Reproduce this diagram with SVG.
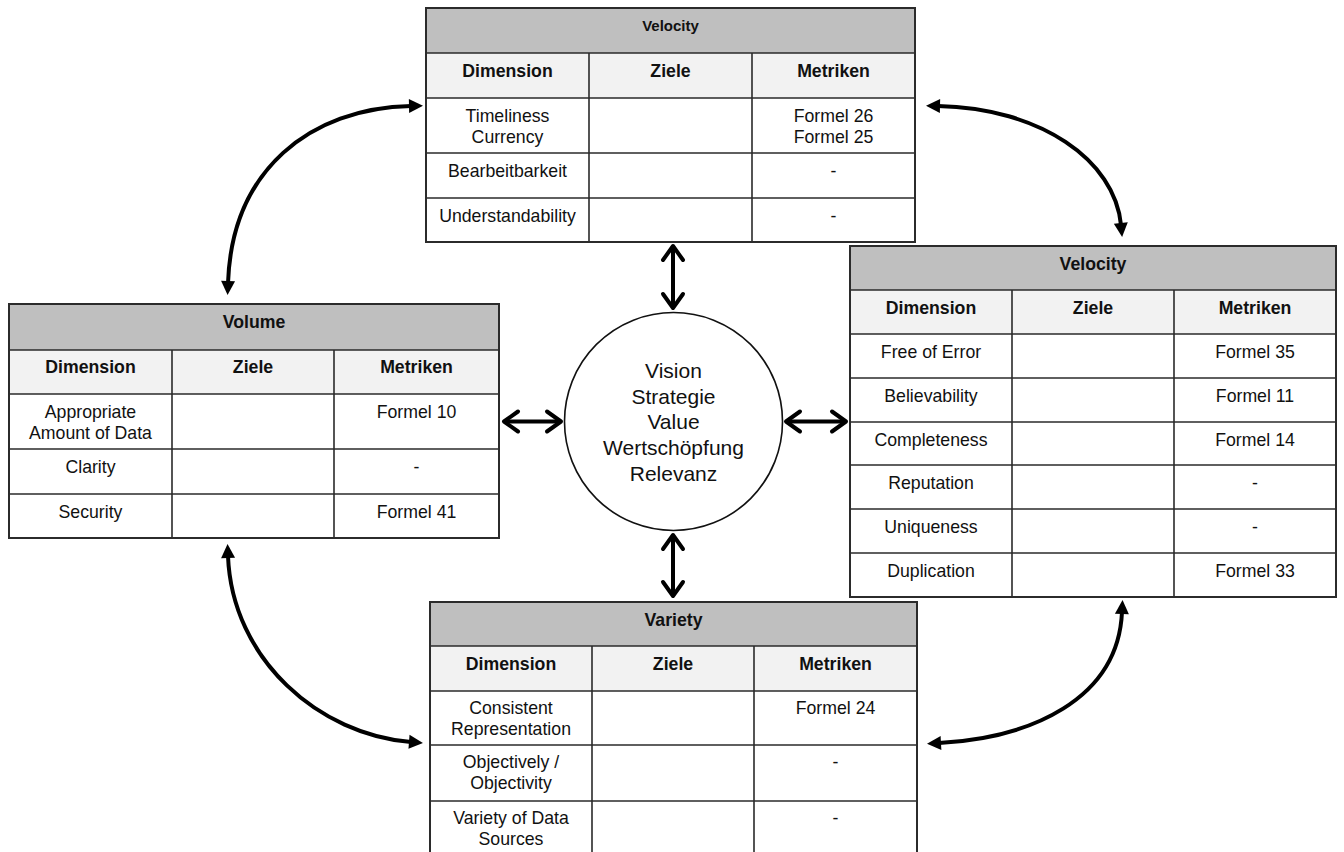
<svg xmlns="http://www.w3.org/2000/svg" width="1344" height="852" viewBox="0 0 1344 852">
  <style>
    text { font-family: "Liberation Sans", Arial, sans-serif; fill: #111; text-anchor: middle; }
    .title { font-size: 17.7px; font-weight: bold; }
    .title-sm { font-size: 15px; font-weight: bold; }
    .colhead { font-size: 17.7px; font-weight: bold; }
    .cell { font-size: 17.7px; }
    .center { font-size: 21px; }
    .band { fill: #bfbfbf; }
    .head { fill: #f2f2f2; }
    .body { fill: #ffffff; }
    .grid { stroke: #2b2b2b; stroke-width: 1.6; fill: none; }
    .frame { stroke: #2b2b2b; stroke-width: 2; fill: none; }
    .link { stroke: #000; stroke-width: 4; fill: none; }
    .hub { fill: #fff; stroke: #111; stroke-width: 1.6; }
  </style>
  <defs>
    <marker id="tri" markerUnits="userSpaceOnUse" markerWidth="20" markerHeight="20" viewBox="-2 -10 20 20" refX="2" refY="0" orient="auto-start-reverse">
      <path d="M0 -7 L14 0 L0 7 Z" fill="#000"/>
    </marker>
    <marker id="chev" markerUnits="userSpaceOnUse" markerWidth="30" markerHeight="30" viewBox="-20 -15 30 30" refX="0" refY="0" orient="auto-start-reverse">
      <path d="M-14 -10 L0 0 L-14 10" fill="none" stroke="#000" stroke-width="4" stroke-linecap="round" stroke-linejoin="round"/>
    </marker>
  </defs>

  <rect width="1344" height="852" fill="#fff"/>

  <!-- connectors -->
  <g id="connectors">
    <!-- hub spokes -->
    <line class="link" x1="673" y1="246" x2="673" y2="308" marker-start="url(#chev)" marker-end="url(#chev)"/>
    <line class="link" x1="673" y1="535" x2="673" y2="596" marker-start="url(#chev)" marker-end="url(#chev)"/>
    <line class="link" x1="504" y1="421.5" x2="561" y2="421.5" marker-start="url(#chev)" marker-end="url(#chev)"/>
    <line class="link" x1="786" y1="421.5" x2="846" y2="421.5" marker-start="url(#chev)" marker-end="url(#chev)"/>
    <!-- ring between tables -->
    <path class="link" d="M228 283 C232 170 310 108 411 106" marker-start="url(#tri)" marker-end="url(#tri)"/>
    <path class="link" d="M938 106 C1040 108 1115 160 1121 225" marker-start="url(#tri)" marker-end="url(#tri)"/>
    <path class="link" d="M228 556 C232 660 320 735 411 742" marker-start="url(#tri)" marker-end="url(#tri)"/>
    <path class="link" d="M1122 612 C1118 700 1030 738 939 743" marker-start="url(#tri)" marker-end="url(#tri)"/>
  </g>

  <!-- hub -->
  <g id="hub">
    <circle class="hub" cx="673.5" cy="421.5" r="109"/>
    <text class="center" x="673.5" y="378">Vision</text>
    <text class="center" x="673.5" y="403.7">Strategie</text>
    <text class="center" x="673.5" y="429.4">Value</text>
    <text class="center" x="673.5" y="455.1">Wertschöpfung</text>
    <text class="center" x="673.5" y="480.8">Relevanz</text>
  </g>

  <!-- top table -->
  <g id="table-velocity-top">
    <rect class="band" x="426" y="8" width="489" height="45"/>
    <rect class="head" x="426" y="53" width="489" height="45"/>
    <rect class="body" x="426" y="98" width="489" height="144"/>
    <path class="grid" d="M426 53 H915 M426 98 H915 M426 153 H915 M426 198 H915 M589 53 V242 M752 53 V242"/>
    <rect class="frame" x="426" y="8" width="489" height="234"/>
    <text class="title-sm" x="670.5" y="31">Velocity</text>
    <text class="colhead" x="507.5" y="77">Dimension</text>
    <text class="colhead" x="670.5" y="77">Ziele</text>
    <text class="colhead" x="833.5" y="77">Metriken</text>
    <text class="cell" x="507.5" y="121.5">Timeliness</text>
    <text class="cell" x="507.5" y="142.5">Currency</text>
    <text class="cell" x="833.5" y="121.5">Formel 26</text>
    <text class="cell" x="833.5" y="142.5">Formel 25</text>
    <text class="cell" x="507.5" y="177">Bearbeitbarkeit</text>
    <text class="cell" x="833.5" y="177">-</text>
    <text class="cell" x="507.5" y="221.5">Understandability</text>
    <text class="cell" x="833.5" y="221.5">-</text>
  </g>

  <!-- left table -->
  <g id="table-volume">
    <rect class="band" x="9" y="304" width="490" height="46"/>
    <rect class="head" x="9" y="350" width="490" height="44"/>
    <rect class="body" x="9" y="394" width="490" height="144"/>
    <path class="grid" d="M9 350 H499 M9 394 H499 M9 449 H499 M9 494 H499 M172 350 V538 M334 350 V538"/>
    <rect class="frame" x="9" y="304" width="490" height="234"/>
    <text class="title" x="254" y="328">Volume</text>
    <text class="colhead" x="90.5" y="373">Dimension</text>
    <text class="colhead" x="253" y="373">Ziele</text>
    <text class="colhead" x="416.5" y="373">Metriken</text>
    <text class="cell" x="90.5" y="417.5">Appropriate</text>
    <text class="cell" x="90.5" y="438.5">Amount of Data</text>
    <text class="cell" x="416.5" y="417.5">Formel 10</text>
    <text class="cell" x="90.5" y="472.5">Clarity</text>
    <text class="cell" x="416.5" y="472.5">-</text>
    <text class="cell" x="90.5" y="517.5">Security</text>
    <text class="cell" x="416.5" y="517.5">Formel 41</text>
  </g>

  <!-- right table -->
  <g id="table-velocity-right">
    <rect class="band" x="850" y="246" width="486" height="44"/>
    <rect class="head" x="850" y="290" width="486" height="44"/>
    <rect class="body" x="850" y="334" width="486" height="263"/>
    <path class="grid" d="M850 290 H1336 M850 334 H1336 M850 378 H1336 M850 422 H1336 M850 465 H1336 M850 509 H1336 M850 553 H1336 M1012 290 V597 M1174 290 V597"/>
    <rect class="frame" x="850" y="246" width="486" height="351"/>
    <text class="title" x="1093" y="270">Velocity</text>
    <text class="colhead" x="931" y="313.5">Dimension</text>
    <text class="colhead" x="1093" y="313.5">Ziele</text>
    <text class="colhead" x="1255" y="313.5">Metriken</text>
    <text class="cell" x="931" y="357.5">Free of Error</text>
    <text class="cell" x="1255" y="357.5">Formel 35</text>
    <text class="cell" x="931" y="401.5">Believability</text>
    <text class="cell" x="1255" y="401.5">Formel 11</text>
    <text class="cell" x="931" y="445.5">Completeness</text>
    <text class="cell" x="1255" y="445.5">Formel 14</text>
    <text class="cell" x="931" y="488.5">Reputation</text>
    <text class="cell" x="1255" y="488.5">-</text>
    <text class="cell" x="931" y="532.5">Uniqueness</text>
    <text class="cell" x="1255" y="532.5">-</text>
    <text class="cell" x="931" y="576.5">Duplication</text>
    <text class="cell" x="1255" y="576.5">Formel 33</text>
  </g>

  <!-- bottom table -->
  <g id="table-variety">
    <rect class="band" x="430" y="602" width="487" height="44"/>
    <rect class="head" x="430" y="646" width="487" height="45"/>
    <rect class="body" x="430" y="691" width="487" height="166"/>
    <path class="grid" d="M430 646 H917 M430 691 H917 M430 745 H917 M430 801 H917 M592 646 V857 M754 646 V857"/>
    <rect class="frame" x="430" y="602" width="487" height="255"/>
    <text class="title" x="673.5" y="625.5">Variety</text>
    <text class="colhead" x="511" y="670">Dimension</text>
    <text class="colhead" x="673" y="670">Ziele</text>
    <text class="colhead" x="835.5" y="670">Metriken</text>
    <text class="cell" x="511" y="713.5">Consistent</text>
    <text class="cell" x="511" y="734.5">Representation</text>
    <text class="cell" x="835.5" y="713.5">Formel 24</text>
    <text class="cell" x="511" y="768">Objectively /</text>
    <text class="cell" x="511" y="789">Objectivity</text>
    <text class="cell" x="835.5" y="768">-</text>
    <text class="cell" x="511" y="824">Variety of Data</text>
    <text class="cell" x="511" y="845">Sources</text>
    <text class="cell" x="835.5" y="824">-</text>
  </g>
</svg>
